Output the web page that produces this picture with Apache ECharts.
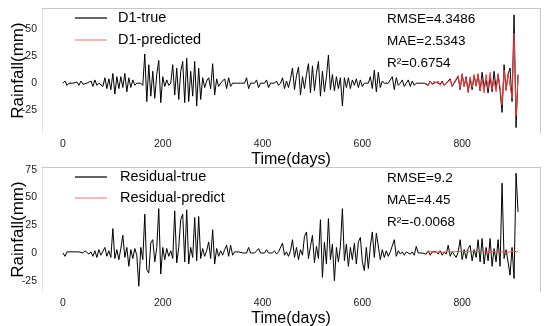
<!DOCTYPE html>
<html>
<head>
<meta charset="utf-8">
<script src="https://cdn.jsdelivr.net/npm/echarts@6/dist/echarts.min.js"></script>
<style>html,body{margin:0;padding:0;background:#fff}#c{width:550px;height:326px}</style>
</head>
<body>
<div id="c"></div>
<script>
// sampling step of the series (days)
const STEP = 4;
const xTicks = [0, 200, 400, 600, 800];
const yTicksTop = [-25, 0, 25, 50];
const yTicksBottom = [-25, 0, 25, 50, 75];

// D1 true, day 0..912 every 4 days
const d1True = [
  0, 2, -2, 0, 0, 0, 0, 1, -2, 2,
  -1, 0, 0, 0, 2, -3, 3, -2, 0, 0,
  -3, 5, -5, 4, -6, 9, -10, 6, -5, 6,
  -4, 9, -8, 5, -4, 3, -2, 0, 0, 0,
  -2, 27, -17, 17, -12, 11, -14, 8, 21, -18,
  6, -3, 3, -2, 0, 17, -11, 14, -15, 11,
  20, -18, 23, -17, 11, -12, 20, -21, 14, -15,
  5, -4, 2, 5, -5, 18, -11, 4, -3, 0,
  0, 4, -5, 5, -3, 0, 0, 0, 0, 0,
  0, 0, 5, -5, 0, 0, 0, 3, -4, 0,
  0, 0, 3, -4, 0, 0, 0, 2, -2, 0,
  5, -5, 2, -4, 4, 14, -6, 7, 15, -11,
  6, -5, 8, 18, -9, 16, -7, 9, 20, -12,
  11, -8, 6, 26, -6, 8, -7, 6, -5, 5,
  -21, 5, -4, 5, -5, 3, -2, 4, -4, 3,
  -3, 0, 0, 0, 6, -5, 12, -8, 10, -4,
  2, 0, 0, 0, 0, 6, -6, 5, -2, 0,
  3, -3, 0, 3, -3, 2, -2, 0, 0, 0,
  0, 0, 1, -2, 2, -1, 0, 1, 0, -1,
  2, -2, 0, 0, 4, -3, 0, 0, 6, -6,
  8, -3, 6, -8, 4, -6, 7, -2, 8, -7,
  10, -4, 3, -9, 6, -8, 11, -5, 8, -7,
  -27, 17, -6, 8, 14, -17, 63, -41, 8
];
// D1 predicted, day 728..912 every 4 days
const d1PredStart = 728;
const d1Pred = [
  0, -2, 2, -1, 2, 0, 2, -2, 1, -2,
  0, 1, 3, -3, 1, 0, 7, -5, 9, -3,
  5, -9, 6, -4, 8, -3, 9, -7, 4, -9,
  8, -5, 10, -6, 3, -8, 9, -4, -20, 12,
  -7, 9, 10, -14, 46, -30, 6
];
// Residual true, day 0..912 every 4 days
const resTrue = [
  0, -3, 1, 0, 1, 0, 1, 0, 1, 2,
  0, 2, 1, -1, 1, -3, 2, -4, 3, -2,
  -1, 5, -3, 2, -4, 22, -5, 3, -6, 4,
  16, -4, 5, -12, 3, -5, 4, -2, -30, 5,
  -6, 35, -15, -18, 9, 12, -8, 5, 40, -19,
  5, -6, 4, -3, 2, -5, 38, -9, 5, 30,
  35, -8, 39, -10, 5, -4, 32, -7, 33, -5,
  4, -3, 2, 10, -5, 21, -10, 4, -3, 2,
  -2, 3, 7, -3, 7, -2, 1, 0, 1, 0,
  0, 0, 0, 5, 0, 0, 0, 0, 4, 0,
  1, 0, 3, 0, 0, 0, 2, -1, 1, 0,
  9, -2, 1, -3, 2, 12, -4, 5, -6, 3,
  -2, 15, 19, -5, 6, 16, -9, 6, -5, 30,
  -22, 10, -10, 31, -6, 8, -25, 5, -8, 6,
  40, -7, 8, -12, 5, -6, 9, -10, 10, 14,
  -8, -16, 5, -14, 6, 19, -4, 18, 19, -6,
  3, -4, 2, -3, 1, 0, 12, -3, 2, -1,
  1, -2, 1, 2, -1, 1, -2, 6, 0, 1,
  0, 1, -1, 2, -2, 1, 0, 1, -1, 2,
  -2, 1, -1, 7, -3, 1, 2, -4, 1, 12,
  -6, 3, -5, 4, 7, -7, 3, -4, 12, -8,
  13, -10, 5, -7, 13, -12, 4, -8, 12, -12,
  63, -5, 3, -8, -20, 5, -23, 72, 37
];
// Residual predicted, day 728..912 every 4 days
const resPredStart = 728;
const resPred = [
  1, 0.5, 1.5, 1, 0.5, 1.5, 1, 1, 0.5, 1.5,
  1, 0.5, 1, 1.5, 1, 0.5, 1.5, 1, 1, 0.5,
  1.5, 1, 1, 0.5, 1.5, 1, 1, 0.5, 1.5, 1,
  1, 1.5, 0.5, 1, 1.5, 1, 0.5, 1.5, 1, 1,
  0.5, 1.5, 1, 1, 1.5, 0.5, 1
];

function pairs(arr, start) { return arr.map((v, i) => [start + i * STEP, v]); }

const FONT = 'Liberation Sans, Arial, sans-serif';
const X_MIN = -42, X_MAX = 956;

function xAxes(grid) {
  return [
    { type: 'value', gridIndex: grid, min: X_MIN, max: X_MAX,
      name: 'Time(days)', nameLocation: 'middle', nameGap: 19, nameMoveOverlap: false,
      nameTextStyle: { fontFamily: FONT, fontSize: 16, color: '#000' },
      axisLine: { show: false, onZero: false }, axisTick: { show: false }, splitLine: { show: false },
      axisLabel: { customValues: xTicks, fontFamily: FONT, fontSize: 10.5, color: '#222', margin: 6 } },
    { type: 'value', gridIndex: grid, position: 'top', min: X_MIN, max: X_MAX,
      axisLine: { show: true, onZero: false, lineStyle: { color: '#c8c8c8', width: 1 } },
      axisTick: { show: false }, axisLabel: { show: false }, splitLine: { show: false } }
  ];
}
function yAxes(grid, mn, mx, ticks) {
  return [
    { type: 'value', gridIndex: grid, min: mn, max: mx,
      name: 'Rainfall(mm)', nameLocation: 'middle', nameGap: 15, nameRotate: 90, nameMoveOverlap: false,
      nameTextStyle: { fontFamily: FONT, fontSize: 17, color: '#000' },
      axisLine: { show: true, onZero: false, lineStyle: { color: '#e4e4e4', width: 1 } },
      axisTick: { show: false }, splitLine: { show: false },
      axisLabel: { customValues: ticks, fontFamily: FONT, fontSize: 10.5, color: '#222', margin: 5 } },
    { type: 'value', gridIndex: grid, position: 'right', min: mn, max: mx,
      axisLine: { show: true, onZero: false, lineStyle: { color: '#c8c8c8', width: 1 } },
      axisTick: { show: false }, axisLabel: { show: false }, splitLine: { show: false } }
  ];
}

function legendGraphics(y1, y2, t1, t2, textX) {
  return [
    { type: 'line', shape: { x1: 75, y1: y1, x2: 107, y2: y1 }, style: { stroke: '#000', lineWidth: 1.2 } },
    { type: 'line', shape: { x1: 75, y1: y2, x2: 107, y2: y2 }, style: { stroke: '#f08a8a', lineWidth: 1.2 } },
    { type: 'text', x: textX, y: y1, style: { text: t1, fontFamily: FONT, fontSize: 14.5, fill: '#000', textVerticalAlign: 'middle' } },
    { type: 'text', x: textX, y: y2, style: { text: t2, fontFamily: FONT, fontSize: 14.5, fill: '#000', textVerticalAlign: 'middle' } }
  ];
}
function statGraphics(y, lines) {
  return lines.map((t, i) => ({ type: 'text', x: 387, y: y + i * 22,
    style: { text: t, fontFamily: FONT, fontSize: 13.5, fill: '#000', textVerticalAlign: 'middle' } }));
}

const chart = echarts.init(document.getElementById('c'), null, { renderer: 'canvas' });
chart.setOption({
  animation: false,
  backgroundColor: '#fff',
  grid: [
    { left: 42, top: 8, width: 498, height: 125, outerBoundsMode: 'none', containLabel: false },
    { left: 42, top: 167, width: 498, height: 125, outerBoundsMode: 'none', containLabel: false }
  ],
  xAxis: [...xAxes(0), ...xAxes(1)],
  yAxis: [...yAxes(0, -46, 69.4, yTicksTop), ...yAxes(1, -35.2, 77.6, yTicksBottom)],
  series: [
    { name: 'D1-true', type: 'line', xAxisIndex: 0, yAxisIndex: 0, showSymbol: false,
      data: pairs(d1True, 0), lineStyle: { color: '#000', width: 1 } },
    { name: 'D1-predicted', type: 'line', xAxisIndex: 0, yAxisIndex: 0, showSymbol: false,
      data: pairs(d1Pred, d1PredStart), lineStyle: { color: '#f23a3a', width: 1 } },
    { name: 'Residual-true', type: 'line', xAxisIndex: 2, yAxisIndex: 2, showSymbol: false,
      data: pairs(resTrue, 0), lineStyle: { color: '#000', width: 1 } },
    { name: 'Residual-predict', type: 'line', xAxisIndex: 2, yAxisIndex: 2, showSymbol: false,
      data: pairs(resPred, resPredStart), lineStyle: { color: '#f05050', width: 1 } }
  ],
  graphic: [
    ...legendGraphics(18, 40, 'D1-true', 'D1-predicted', 118),
    ...legendGraphics(177, 198, 'Residual-true', 'Residual-predict', 120),
    ...statGraphics(19, ['RMSE=4.3486', 'MAE=2.5343', 'R\u00b2=0.6754']),
    ...statGraphics(178, ['RMSE=9.2', 'MAE=4.45', 'R\u00b2=-0.0068'])
  ]
});
</script>
</body>
</html>
